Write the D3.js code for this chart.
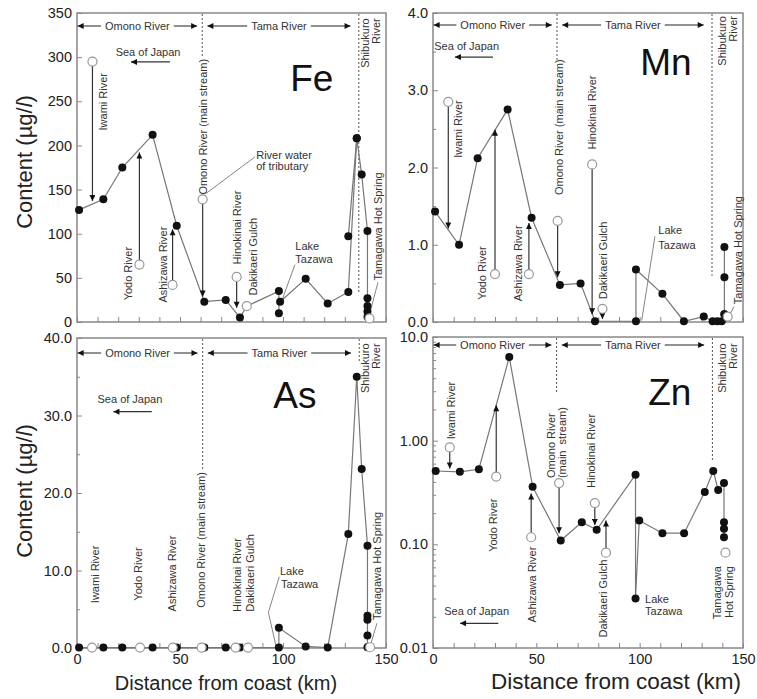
<!DOCTYPE html>
<html>
<head>
<meta charset="utf-8">
<script src="https://cdn.jsdelivr.net/npm/d3@7"></script>
<style>
  body { margin: 0; background: #fff; }
  text { font-family: Arial, "Liberation Sans", sans-serif; }
</style>
</head>
<body>
<svg id="chart" width="757" height="699"></svg>
<script>
// ---------------- data (km from coast, content in ug/l) ----------------
var kmTicks = [0, 50, 100, 150];
var kmMinor = [0, 10, 20, 30, 40, 50, 60, 70, 80, 90, 100, 110, 120, 130, 140, 150];
var riverNames = ["Omono River", "Tama River"];

// Fe
var feTicks = [0, 50, 100, 150, 200, 250, 300, 350];
var feLines = [
  [[1, 127], [12.8, 139], [22, 175], [36.7, 212], [48.4, 109], [61.8, 23], [72.2, 25], [79.1, 5], [82.4, 18], [98, 35], [98, 10]],
  [[98.6, 23], [111, 49], [121.7, 21], [131.7, 34], [135.8, 208], [138.2, 167], [141, 103], [141, 27], [141, 18], [141, 12], [141, 6]],
  [[131.7, 97], [135.8, 208]]
];
var feTribs = [[7.5, 295, 137], [30.3, 65, 192], [46.4, 42, 105], [61, 139, 29], [77.5, 51, 16]];
var feOpen = [[82.4, 18], [142, 4]];
var feDash = [[60.8, 300], [136.8, 34]];

// Mn
var mnTicks = [0, 1, 2, 3, 4];
var mnMinor = [0.5, 1.5, 2.5, 3.5];
var mnLines = [
  [[1, 1.43], [12.6, 1.0], [21.6, 2.12], [36.1, 2.75], [47.7, 1.35], [61.4, 0.48], [71.4, 0.5], [78.4, 0.01], [98.2, 0.01], [98.2, 0.68],
   [111, 0.365], [121.4, 0.01], [131, 0.07], [135.3, 0.01], [137.6, 0.01], [139.7, 0.01], [141, 0.10]],
  [[141, 0.97], [141, 0.58], [141, 0.10]]
];
var mnTribs = [[7.4, 2.85, 1.21], [30, 0.62, 2.49], [46.4, 0.62, 1.28], [60.3, 1.31, 0.58], [77, 2.04, 0.1], [82, 0.17, 0.04]];
var mnOpen = [[142.6, 0.07]];
var mnDash = [[60, 3.37], [135, 0.6]];

// As
var asTicks = [0, 10, 20, 30, 40];
var asMinor = [5, 15, 25, 35];
var asLines = [
  [[1, 0.05], [12.8, 0.05], [22, 0.05], [36.7, 0.05], [48.4, 0.05], [61.8, 0.05], [72.2, 0.05], [79.1, 0.05], [98, 0.05], [98, 2.6],
   [111, 0.2], [121.7, 0.05], [131.7, 14.7], [135.8, 35], [138.2, 23.1], [141, 13.2], [141, 4.15], [141, 3.65], [141, 1.6], [141, 0.1]]
];
var asTribs = [];
var asOpen = [[7.3, 0.05], [30.6, 0.05], [46.5, 0.05], [60.5, 0.05], [77, 0.05], [83, 0.05], [142.3, 0.1]];
var asDash = [[61, 23], [137, 37]];

// Zn
var znTicks = [0.01, 0.1, 1, 10];
var znTickText = ["0.01", "0.10", "1.00", "10.0"];
var znMinor = [0.02, 0.03, 0.04, 0.05, 0.06, 0.07, 0.08, 0.09, 0.2, 0.3, 0.4, 0.5, 0.6, 0.7, 0.8, 0.9, 2, 3, 4, 5, 6, 7, 8, 9];
var znLines = [
  [[1.3, 0.51], [13, 0.50], [22.2, 0.53], [36.9, 6.4], [48.2, 0.36], [61.8, 0.109], [72, 0.163], [79.2, 0.138], [98, 0.47], [98, 0.030],
   [99.8, 0.17], [111, 0.128], [121.5, 0.128], [131.5, 0.32], [135.6, 0.51], [138, 0.335], [140.8, 0.39], [140.8, 0.163], [140.8, 0.141], [140.8, 0.117]]
];
var znTribs = [[8.1, 0.86, 0.54], [30.6, 0.45, 2.2], [47.5, 0.117, 0.31], [61, 0.39, 0.128], [78.3, 0.25, 0.154], [83.7, 0.083, 0.17]];
var znOpen = [[141.5, 0.083]];
var znDash = [[59.8, 2.88], [135.2, 0.63]];

// annotation texts: [text, km, value, anchor, vertical]
var feLabels = [
  ["Iwami River", 12.6, 282, "end", 1], ["Yodo River", 24.9, 85, "end", 1], ["Ashizawa River", 41.6, 108, "end", 1],
  ["Omono River (main stream)", 61.3, 298, "end", 1], ["Hinokinai River", 77.5, 149, "end", 1], ["Dakikaeri Gulch", 85.3, 118, "end", 1],
  ["Tamagawa Hot Spring", 146, 47, "start", 1], ["Shibukuro", 139.8, 344, "end", 1], ["River", 145, 344, "end", 1],
  ["River water", 87, 189, "start", 0], ["of tributary", 87, 176, "start", 0], ["Lake", 106, 86, "start", 0], ["Tazawa", 106, 71, "start", 0]
];
var mnLabels = [
  ["Iwami River", 12.4, 2.87, "end", 1], ["Yodo River", 24, 0.98, "end", 1], ["Ashizawa River", 41, 1.25, "end", 1],
  ["Omono River (main stream)", 61.2, 3.4, "end", 1], ["Hinokinai River", 76.8, 3.19, "end", 1], ["Dakikaeri Gulch", 82.2, 1.3, "end", 1],
  ["Tamagawa Hot Spring", 147.6, 0.23, "start", 1], ["Shibukuro", 140, 3.96, "end", 1], ["River", 145, 3.96, "end", 1],
  ["Lake", 109, 1.19, "start", 0], ["Tazawa", 109, 0.99, "start", 0]
];
var asLabels = [
  ["Iwami River", 8.7, 13.2, "end", 1], ["Yodo River", 29.8, 13, "end", 1], ["Ashizawa River", 46, 14.5, "end", 1],
  ["Omono River (main stream)", 60.5, 22.7, "end", 1], ["Hinokinai River", 77.5, 14.2, "end", 1], ["Dakikaeri Gulch", 84, 14.7, "end", 1],
  ["Tamagawa Hot Spring", 145.8, 3.6, "start", 1], ["Shibukuro", 139.8, 39.3, "end", 1], ["River", 145, 39.3, "end", 1],
  ["Lake", 98.5, 9.9, "start", 0], ["Tazawa", 99, 8.2, "start", 0]
];
var znLabels = [
  ["Iwami River", 9, 3.7, "end", 1], ["Yodo River", 29, 0.277, "end", 1], ["Ashizawa River", 48, 0.095, "end", 1],
  ["Omono River", 57.4, 0.436, "start", 1], ["(main  stream)", 62.6, 0.436, "start", 1], ["Hinokinai River", 76.4, 0.35, "start", 1],
  ["Dakikaeri Gulch", 82.2, 0.071, "end", 1], ["Tamagawa", 137.6, 0.0617, "end", 1], ["Hot Spring", 143.2, 0.0617, "end", 1],
  ["Shibukuro", 140, 8.7, "end", 1], ["River", 145, 8.7, "end", 1],
  ["Lake", 102.6, 0.0295, "start", 0], ["Tazawa", 102.6, 0.0225, "start", 0]
];
// leader lines
var feLeaders = [[[62.3, 145], [86.4, 187]], [[105.8, 65], [99.4, 24]], [[146.1, 45], [141.7, 6]]];
var mnLeaders = [[[107.4, 1.11], [101, 0.02]], [[145.6, 0.2], [142.9, 0.06]]];
var asLeaders = [[[98.2, 9.2], [92.9, 4.6], [96.6, 0.25]], [[145.6, 3.2], [142.5, 0.4]]];
var znLeaders = [];
// "Sea of Japan": [textKm, textValue, arrowFromKm, arrowToKm, arrowValue]
var feSea = [34.5, 306, 45.1, 26.2, 294.6];
var mnSea = [16.3, 3.57, 29, 10.6, 3.43];
var asSea = [25.7, 32.1, 36.3, 17.7, 30.5];
var znSea = [21.1, 0.0228, 31.6, 13.1, 0.0173];

// ---------------- drawing ----------------
var svg = d3.select("#chart");

svg.append("defs").append("marker")
    .attr("id", "tri")
    .attr("viewBox", "0 0 10 10")
    .attr("refX", 10).attr("refY", 5)
    .attr("markerWidth", 7).attr("markerHeight", 6)
    .attr("markerUnits", "userSpaceOnUse")
    .attr("orient", "auto-start-reverse")
    .append("path").attr("d", "M0,0L10,5L0,10Z").attr("fill", "#111");

function drawPanel(p) {
    var x = d3.scaleLinear().domain([0, 150]).range([p.left, p.right]);
    var y = (p.log ? d3.scaleLog() : d3.scaleLinear()).domain(p.domain).range([p.bottom, p.top]);
    var g = svg.append("g");

    // ticks (inward)
    var gx = g.append("g").attr("transform", "translate(0," + p.bottom + ")")
        .call(d3.axisBottom(x).tickValues(kmMinor).tickSize(-5).tickFormat(""));
    if (p.xLabels) {
        gx.append("g").call(d3.axisBottom(x).tickValues(kmTicks).tickSize(0).tickPadding(6).tickFormat(d3.format("d")));
    }
    var gy = g.append("g").attr("transform", "translate(" + p.left + ",0)")
        .call(d3.axisLeft(y).tickValues(p.ticks).tickSize(-5).tickPadding(5).tickFormat(p.fmt));
    if (p.minor) {
        gy.append("g").call(d3.axisLeft(y).tickValues(p.minor).tickSize(-3).tickFormat(""));
    }
    g.selectAll(".domain").remove();
    g.selectAll(".tick line").attr("stroke", "#888");
    g.selectAll(".tick text").attr("fill", "#222").attr("font-size", 14.5)
        .attr("font-family", "Arial, 'Liberation Sans', sans-serif");

    // frame
    g.append("rect")
        .attr("x", p.left).attr("y", p.top)
        .attr("width", p.right - p.left).attr("height", p.bottom - p.top)
        .attr("fill", "none").attr("stroke", "#888").attr("stroke-width", 1.5);

    // river section dividers
    g.selectAll("line.dash").data(p.dash).enter().append("line")
        .attr("x1", function (d) { return x(d[0]); })
        .attr("x2", function (d) { return x(d[0]); })
        .attr("y1", p.top + 1)
        .attr("y2", function (d) { return y(d[1]); })
        .attr("stroke", "#555").attr("stroke-width", 1).attr("stroke-dasharray", "2,2");

    // headers  <- Omono River ->  <- Tama River ->
    var hy = p.top + p.headerDy;
    var spans = [[0.3, p.dash[0][0] - 2.5], [p.dash[0][0] + 2.5, p.dash[1][0] - 4]];
    spans.forEach(function (s, i) {
        var mid = (x(s[0]) + x(s[1])) / 2;
        var t = g.append("text").text(riverNames[i])
            .attr("x", mid).attr("y", hy).attr("dy", "0.35em")
            .attr("text-anchor", "middle").attr("font-size", 11).attr("fill", "#333");
        var w = t.node().getComputedTextLength() / 2 + 4;
        g.append("line").attr("x1", x(s[0])).attr("x2", mid - w).attr("y1", hy).attr("y2", hy)
            .attr("stroke", "#222").attr("marker-start", "url(#tri)");
        g.append("line").attr("x1", mid + w).attr("x2", x(s[1])).attr("y1", hy).attr("y2", hy)
            .attr("stroke", "#222").attr("marker-end", "url(#tri)");
    });

    // Sea of Japan
    g.append("text").text("Sea of Japan")
        .attr("x", x(p.sea[0])).attr("y", y(p.sea[1])).attr("dy", "0.35em")
        .attr("text-anchor", "middle").attr("font-size", 11).attr("fill", "#333");
    g.append("line")
        .attr("x1", x(p.sea[2])).attr("x2", x(p.sea[3]))
        .attr("y1", y(p.sea[4])).attr("y2", y(p.sea[4]))
        .attr("stroke", "#333").attr("stroke-width", 1.2).attr("marker-end", "url(#tri)");

    var line = d3.line().x(function (d) { return x(d[0]); }).y(function (d) { return y(d[1]); });

    // leader lines
    g.selectAll("path.leader").data(p.leaders).enter().append("path")
        .attr("d", line).attr("fill", "none").attr("stroke", "#777").attr("stroke-width", 0.9);

    // main stream
    g.selectAll("path.main").data(p.lines).enter().append("path")
        .attr("d", line).attr("fill", "none").attr("stroke", "#777").attr("stroke-width", 1.2);

    // tributary inflow arrows
    var r = 4.5;
    g.selectAll("line.trib").data(p.tribs).enter().append("line")
        .attr("x1", function (d) { return x(d[0]); })
        .attr("x2", function (d) { return x(d[0]); })
        .attr("y1", function (d) { return y(d[1]) + (d[2] < d[1] ? r : -r); })
        .attr("y2", function (d) { return y(d[2]); })
        .attr("stroke", "#333").attr("stroke-width", 1.2).attr("marker-end", "url(#tri)");

    // sampling points
    var pts = [];
    p.lines.forEach(function (l) { pts = pts.concat(l); });
    g.selectAll("circle.pt").data(pts).enter().append("circle")
        .attr("cx", function (d) { return x(d[0]); })
        .attr("cy", function (d) { return y(d[1]); })
        .attr("r", 4).attr("fill", "#111");

    var open = p.tribs.map(function (d) { return [d[0], d[1]]; }).concat(p.open);
    g.selectAll("circle.op").data(open).enter().append("circle")
        .attr("cx", function (d) { return x(d[0]); })
        .attr("cy", function (d) { return y(d[1]); })
        .attr("r", r).attr("fill", "#fff").attr("stroke", "#999").attr("stroke-width", 1.2);

    // texts
    p.labels.forEach(function (l) {
        var t = g.append("text").text(l[0])
            .attr("font-size", 11).attr("fill", "#333")
            .attr("text-anchor", l[3]).attr("dy", "0.35em")
            .style("white-space", "pre");
        if (l[4]) {
            t.attr("transform", "translate(" + x(l[1]) + "," + y(l[2]) + ") rotate(-90)");
        } else {
            t.attr("x", x(l[1])).attr("y", y(l[2]));
        }
    });

    g.append("text").text(p.name)
        .attr("x", x(p.nameAt[0])).attr("y", y(p.nameAt[1])).attr("dy", "0.35em")
        .attr("text-anchor", "middle").attr("font-size", 37).attr("fill", "#111");
}

drawPanel({
    name: "Fe", nameAt: [114, 276], left: 77, right: 386, top: 13, bottom: 322, headerDy: 13,
    domain: [0, 350], ticks: feTicks, minor: null, fmt: d3.format("d"), xLabels: false,
    lines: feLines, tribs: feTribs, open: feOpen, dash: feDash, labels: feLabels, leaders: feLeaders, sea: feSea
});
drawPanel({
    name: "Mn", nameAt: [112.7, 3.37], left: 433, right: 743, top: 13, bottom: 322, headerDy: 12,
    domain: [0, 4], ticks: mnTicks, minor: mnMinor, fmt: d3.format(".1f"), xLabels: false,
    lines: mnLines, tribs: mnTribs, open: mnOpen, dash: mnDash, labels: mnLabels, leaders: mnLeaders, sea: mnSea
});
drawPanel({
    name: "As", nameAt: [105.8, 32.6], left: 77, right: 386, top: 338, bottom: 648, headerDy: 15,
    domain: [0, 40], ticks: asTicks, minor: asMinor, fmt: d3.format(".1f"), xLabels: true,
    lines: asLines, tribs: asTribs, open: asOpen, dash: asDash, labels: asLabels, leaders: asLeaders, sea: asSea
});
drawPanel({
    name: "Zn", nameAt: [114.6, 2.97], left: 433, right: 743, top: 337, bottom: 648, headerDy: 8, log: true,
    domain: [0.01, 10], ticks: znTicks, minor: znMinor, fmt: function (d) { return znTickText[znTicks.indexOf(d)]; }, xLabels: true,
    lines: znLines, tribs: znTribs, open: znOpen, dash: znDash, labels: znLabels, leaders: znLeaders, sea: znSea
});

// axis titles
[162, 491].forEach(function (cy) {
    var t = svg.append("text")
        .attr("transform", "translate(32," + cy + ") rotate(-90)")
        .attr("text-anchor", "middle").attr("font-size", 22).attr("fill", "#222");
    t.append("tspan").text("Content (\u00b5g/");
    t.append("tspan").text("l").attr("font-style", "italic");
    t.append("tspan").text(")");
});
svg.append("text").text("Distance from coast (km)")
    .attr("x", 226).attr("y", 690).attr("text-anchor", "middle").attr("font-size", 20).attr("fill", "#222");
svg.append("text").text("Distance from coast (km)")
    .attr("x", 616).attr("y", 689).attr("text-anchor", "middle").attr("font-size", 22.5).attr("fill", "#222");
</script>
</body>
</html>
